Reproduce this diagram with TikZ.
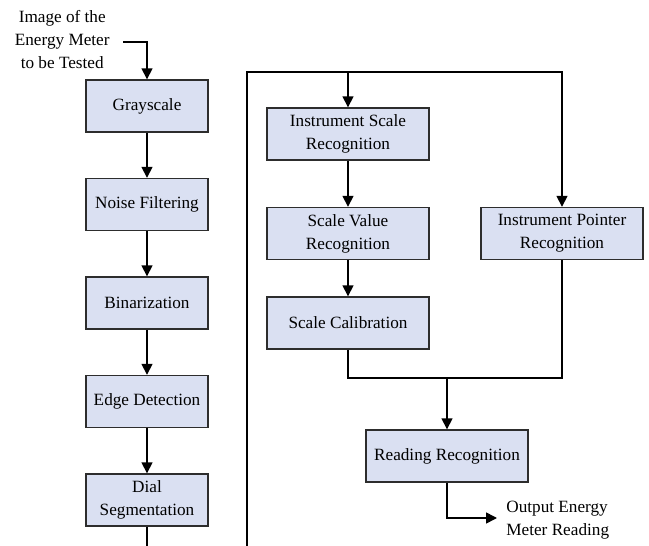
\documentclass[tikz,border=0pt]{standalone}
\usepackage{fontspec}
\setmainfont{LiberationSerif}[Extension=.ttf, UprightFont=*-Regular, BoldFont=*-Bold]
\usepackage{tikz}
\usetikzlibrary{calc}
\usetikzlibrary{positioning}
\usetikzlibrary{arrows.meta}

\definecolor{boxfill}{RGB}{218,224,242}
\definecolor{boxline}{RGB}{45,45,45}

\begin{document}
\begin{tikzpicture}[x=0.5pt, y=-0.5pt,
		font=\rmfamily\fontsize{8.6}{11.5}\selectfont,
		stage/.style={rectangle, draw=boxline, fill=boxfill, line width=0.7pt, minimum width=61pt, minimum height=26pt, align=center, inner sep=1pt},
		wide/.style={stage, minimum width=81pt},
		flow/.style={line width=0.8pt, -{Triangle[length=5.5pt,width=5.5pt]}},
		wire/.style={line width=0.8pt}]
				\useasboundingbox (0,0) rectangle (649,546);
				
				\node[stage] (gray) at (147,106) {Grayscale};
				\node[stage] (noise) at (147,204.5) {Noise Filtering};
				\node[stage] (binar) at (147,303) {Binarization};
				\node[stage] (edge) at (147,401.5) {Edge Detection};
				\node[stage] (dial) at (147,500) {Dial\\Segmentation};
				
				\node[wide] (isr) at (348,134) {Instrument Scale\\Recognition};
				\node[wide] (svr) at (348,233.5) {Scale Value\\Recognition};
				\node[wide] (scal) at (348,323) {Scale Calibration};
				\node[wide] (ipr) at (562,233.5) {Instrument Pointer\\Recognition};
				\node[wide] (read) at (447,456) {Reading Recognition};
				
				\node[align=center, anchor=east, inner sep=0pt] (input) at (110,40) {Image of the\\Energy Meter\\to be Tested};
				\node[align=left, anchor=west, inner sep=4.5pt] (output) at (497,520) {Output Energy\\Meter Reading};
				
				\coordinate (in) at (123,42);
				\coordinate (dbot) at (147,546);
				\coordinate (lbot) at (247,546);
				\coordinate (ltop) at (247,72);
				\coordinate (rtop) at (562,72);
				\coordinate (mj) at (447,378);
				
				\draw[flow] (in) -| (gray);
				\draw[flow] (gray) -- (noise);
				\draw[flow] (noise) -- (binar);
				\draw[flow] (binar) -- (edge);
				\draw[flow] (edge) -- (dial);
				\draw[wire] (dial) -- (dbot);
				
				\draw[flow] (lbot) -- (ltop) -- (rtop) -- (ipr);
				\draw[flow] (isr.north |- ltop) -- (isr);
				\draw[flow] (isr) -- (svr);
				\draw[flow] (svr) -- (scal);
				\draw[wire] (scal.south) |- (mj) -| (ipr.south);
				\draw[flow] (mj) -- (read);
				\draw[flow] (read.south) |- (output.west |- 0,518);
			\end{tikzpicture}
\end{document}
